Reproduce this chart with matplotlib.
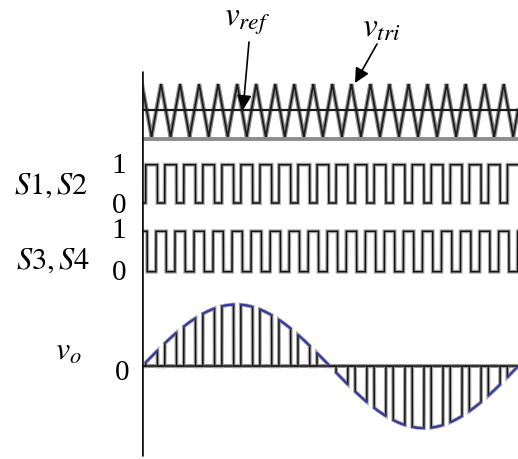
import numpy as np
import matplotlib
matplotlib.use("Agg")
import matplotlib.pyplot as plt

# ---------------- data ----------------
carrier_cycles = 19.75        # triangle periods across the window
mod_cycles = 1.0              # sine periods across the window
ref_level = 0.51              # v_ref level (0 = triangle valley, 1 = peak)
s12_duty = 0.615              # S1,S2 on-fraction (centred on triangle valleys)
s34_duty = 0.54               # S3,S4 on-fraction (centred on triangle peaks)
panel_labels = ["$S1,S2$", "$S3,S4$", "$v_o$"]
level_labels = ["1", "0", "1", "0", "0"]
signal_labels = ["$v_{ref}$", "$v_{tri}$"]

# ---------------- layout (pixels, from top) ----------------
W, H = 518, 460
X0, X1 = 142, 518
tri_top, tri_bot, tri_base = 85, 137.7, 139.5
s12_hi, s12_lo = 165.7, 204
s34_hi, s34_lo = 232.3, 272.7
vo_zero, vo_amp = 367.3, 61.8
axis_top, axis_bot = 72, 457

plt.rcParams["mathtext.fontset"] = "stix"
plt.rcParams["font.family"] = ["Liberation Serif", "DejaVu Serif"]

fig = plt.figure(figsize=(W / 100, H / 100), dpi=100)
ax = fig.add_axes([X0 / W, 0, (X1 - X0) / W, 1])
ax.set_xlim(0, 1)
ax.set_ylim(H, 0)
ax.axis("off")

t = np.linspace(0, 1, 24001)
phase = (t * carrier_cycles) % 1.0
tri = np.abs(2 * phase - 1)          # 1 at peaks, 0 at valleys
s12 = (tri < s12_duty).astype(float)
s34 = (tri > 1 - s34_duty).astype(float)
sine = np.sin(2 * np.pi * mod_cycles * t)
vo = sine * s12


def soft(x, y, halo="#a8a8a8", core="#111111", hw=2.8, cw=1.1):
    ax.plot(x, y, color=halo, lw=hw, solid_joinstyle="miter")
    ax.plot(x, y, color=core, lw=cw, solid_joinstyle="miter")


# triangle panel
ax.axhline(tri_base, color="#8c8c8c", lw=2.8)
soft(t, tri_bot - tri * (tri_bot - tri_top), halo="#8a8a8a", core="#1a1a1a",
     hw=3.0, cw=1.2)
ax.axhline(tri_bot - ref_level * (tri_bot - tri_top), color="#1a1a1a", lw=1.6)

# switching signals
soft(t, s12_lo - s12 * (s12_lo - s12_hi))
soft(t, s34_lo - s34 * (s34_lo - s34_hi))

# output voltage
ax.axhline(vo_zero, color="#8c8c8c", lw=2.8)
soft(t, vo_zero - vo * vo_amp)
ax.axhline(vo_zero, color="#222222", lw=1.2)
ax.plot(t, np.where(s12 > 0, vo_zero - sine * vo_amp, np.nan),
        color="#3b3ba8", lw=1.5)

# vertical axis
ax.vlines(0, axis_top, axis_bot, color="#111111", lw=1.9)

# ---------------- annotations (overlay axes in pixel units) ----------------
ov = fig.add_axes([0, 0, 1, 1], facecolor="none")
ov.set_xlim(0, W)
ov.set_ylim(H, 0)
ov.axis("off")

fs = 22
ov.text(51, 186, panel_labels[0], fontsize=fs, ha="center", va="center")
ov.text(53, 261, panel_labels[1], fontsize=fs, ha="center", va="center")
ov.text(68, 352, panel_labels[2], fontsize=fs + 1, ha="center", va="center")

# digits placed by baseline so their boxes do not collide
dfs = 21
ov.text(119, 173, level_labels[0], fontsize=dfs, ha="center", va="baseline")
ov.text(119, 213, level_labels[1], fontsize=dfs, ha="center", va="baseline")
ov.text(119, 238, level_labels[2], fontsize=dfs, ha="center", va="baseline")
ov.text(119, 280, level_labels[3], fontsize=dfs, ha="center", va="baseline")
ov.text(122, 380, level_labels[4], fontsize=dfs, ha="center", va="baseline")

ov.text(247, 22, signal_labels[0], fontsize=fs + 2, ha="center", va="center")
ov.text(381, 28, signal_labels[1], fontsize=fs + 2, ha="center", va="center")

arrow = dict(arrowstyle="-|>", color="black", lw=1.2, mutation_scale=22,
             shrinkA=0, shrinkB=0)
ov.annotate("", xy=(243, 111), xytext=(249, 43), arrowprops=arrow)
ov.annotate("", xy=(355, 84), xytext=(377, 45), arrowprops=arrow)

fig.savefig("out.png", dpi=100)
